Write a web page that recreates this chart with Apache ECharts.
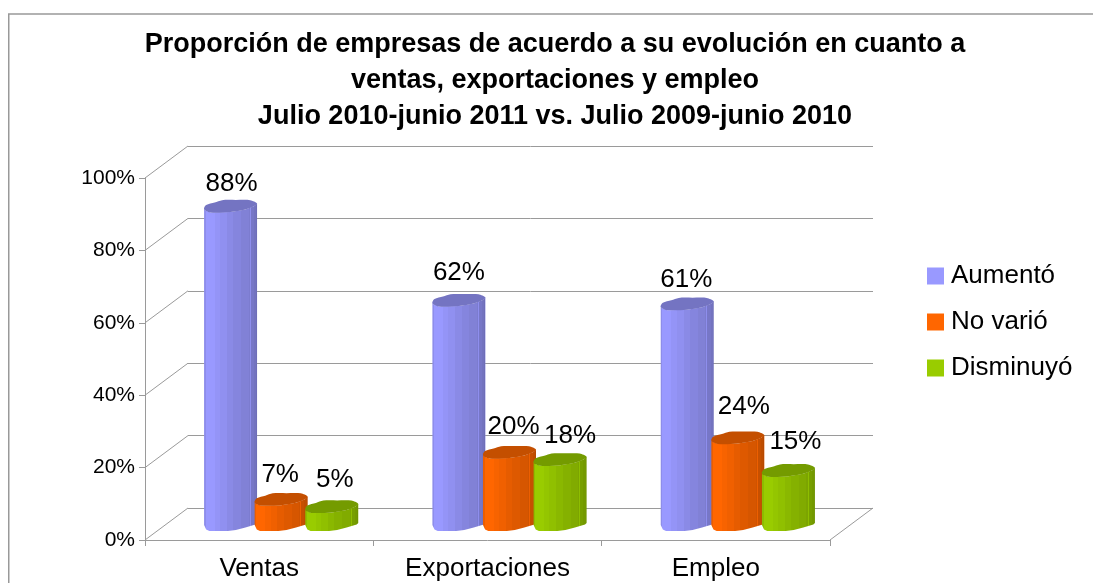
<!DOCTYPE html>
<html><head><meta charset="utf-8">
<style>html,body{margin:0;padding:0;background:#fff}#c{width:1093px;height:583px}</style>
<script src="https://cdn.jsdelivr.net/npm/echarts@6/dist/echarts.min.js"></script>
</head><body><div id="c"></div>
<script>
const categories = ['Ventas', 'Exportaciones', 'Empleo'];
const aumento = [88, 62, 61];
const noVario = [7, 20, 24];
const disminuyo = [5, 18, 15];
const titleText = 'Proporción de empresas de acuerdo a su evolución en cuanto a\nventas, exportaciones y empleo\nJulio 2010-junio 2011 vs. Julio 2009-junio 2010';

const FONT = '"Liberation Sans", Arial, sans-serif';
const DEPTH_X = 43, DEPTH_Y = -32;
const GRAY = '#9a9a9a';
const BAR_W = 53, BAR_STEP = 50.6;
const LABEL_NUDGE = [
  [[1, -22], [-1, -24], [3, -26]],
  [[0, -27], [4, -25], [10, -23]],
  [[-1, -23], [6, -30], [7, -28]]
];
const CAP = [[0,2.5],[.04,-.5],[.2,-3],[.34,-5.3],[.6,-5.5],[.87,-5.3],[1,-2],[.95,.5],[.78,4],[.5,6.5],[.12,7],[.01,4.5]];
const FRONT_TOP = [[0,2],[.01,4.5],[.12,7],[.5,6.5],[.78,4],[.95,.5],[1,-2]];
const FRONT_BOT = [[1,-1],[.97,.5],[.78,3.5],[.6,6],[.45,7],[.1,7],[.04,5.5],[0,1]];
const FACETS = [[0,.92],[.03,1],[.2,.97],[.3,.94],[.43,.9],[.55,.87],[.7,.84],[.84,.81],[.86,.93],[.88,.78],[.94,.75],[.98,.72],[1,.88]];

function shade(rgb, f) {
  return 'rgb(' + rgb.map(c => Math.round(c * f)).join(',') + ')';
}
function barGradient(rgb) {
  const stops = [];
  FACETS.forEach((s, i) => {
    if (i > 0) stops.push({ offset: s[0], color: shade(rgb, FACETS[i - 1][1]) });
    stops.push({ offset: s[0], color: shade(rgb, s[1]) });
  });
  return new echarts.graphic.LinearGradient(0, 0, 1, 0, stops);
}
function cylinder(seriesIdx, rgb, capFactor) {
  return function (params, api) {
    const cat = api.value(0), val = api.value(1);
    const center = api.coord([cat, 0])[0] + (seriesIdx - 1) * BAR_STEP;
    const x0 = center - BAR_W / 2;
    const top = api.coord([cat, val])[1];
    const base = api.coord([cat, 0])[1];
    const pts = (list, y) => list.map(p => [x0 + p[0] * BAR_W, y + p[1]]);
    const nudge = LABEL_NUDGE[cat][seriesIdx];
    return {
      type: 'group',
      children: [
        { type: 'polygon', shape: { points: pts(FRONT_TOP, top).concat(pts(FRONT_BOT, base)) },
          style: { fill: barGradient(rgb) } },
        { type: 'polygon', shape: { points: pts(CAP, top), smooth: 0.3 },
          style: { fill: shade(rgb, capFactor) } },
        { type: 'text', z2: 100, style: { x: center + nudge[0], y: top + nudge[1],
            text: api.value(1) + '%', align: 'center', verticalAlign: 'middle',
            font: '26px ' + FONT, fill: '#000' } }
      ]
    };
  };
}
function barSeries(name, values, idx, rgb, capFactor) {
  return {
    name, type: 'custom', xAxisIndex: 2, yAxisIndex: 2, z: 5 + idx,
    itemStyle: { color: shade(rgb, 1) },
    renderItem: cylinder(idx, rgb, capFactor),
    encode: { x: 0, y: 1 },
    clip: false,
    data: values.map((v, i) => [i, v])
  };
}
const ticks = [0, 20, 40, 60, 80, 100];
const chart = echarts.init(document.getElementById('c'), null, { renderer: 'canvas' });
const yBase = { type: 'value', min: 0, max: 100, interval: 20 };
chart.setOption({
  animation: false,
  backgroundColor: '#fff',
  title: {
    text: titleText, left: 555, top: 27, padding: 0, textAlign: 'center',
    textStyle: { fontFamily: FONT, fontSize: 27, fontWeight: 'bold', color: '#000', lineHeight: 36 }
  },
  legend: {
    orient: 'vertical', left: 927, top: 263, padding: 0, itemWidth: 17, itemHeight: 17, itemGap: 20,
    icon: 'rect', selectedMode: false,
    textStyle: { fontFamily: FONT, fontSize: 26, color: '#000', padding: [0, 0, 0, 2] },
    data: ['Aumentó', 'No varió', 'Disminuyó']
  },
  graphic: [{ type: 'polyline', silent: true, z: 0,
    shape: { points: [[8.75, 583], [8.75, 14], [1093, 14]] },
    style: { stroke: '#999', lineWidth: 1.5, fill: null } }],
  grid: [
    { left: 145, top: 178, width: 685, height: 362 },
    { left: 188, top: 146, width: 685, height: 362 },
    { left: 167, top: 162, width: 685, height: 362 }
  ],
  xAxis: [
    { type: 'category', gridIndex: 0, data: categories,
      axisLine: { show: true, lineStyle: { color: GRAY } },
      axisTick: { show: true, alignWithLabel: false, length: 6, lineStyle: { color: GRAY } },
      axisLabel: { fontFamily: FONT, fontSize: 26, color: '#000', margin: 16 } },
    { type: 'category', gridIndex: 1, data: categories, show: false },
    { type: 'category', gridIndex: 2, data: categories, show: false }
  ],
  yAxis: [
    Object.assign({}, yBase, { gridIndex: 0,
      axisLine: { show: true, lineStyle: { color: GRAY } },
      axisTick: { show: true, length: 6, lineStyle: { color: GRAY } },
      splitLine: { show: false },
      axisLabel: { fontFamily: FONT, fontSize: 21, color: '#000', margin: 10, padding: [0, 0, 4, 0], formatter: '{value}%' } }),
    Object.assign({}, yBase, { gridIndex: 1,
      axisLine: { show: false }, axisTick: { show: false }, axisLabel: { show: false },
      splitLine: { show: true, lineStyle: { color: GRAY, width: 1 } } }),
    Object.assign({}, yBase, { gridIndex: 2, show: false, splitLine: { show: false } })
  ],
  series: [
    { type: 'custom', xAxisIndex: 0, yAxisIndex: 0, z: 1, silent: true, clip: false,
      encode: { x: 0, y: 1 },
      data: ticks.map(t => [0, t]),
      renderItem: function (params, api) {
        const p = api.coord([0, api.value(1)]);
        const x = p[0] - api.size([1, 0])[0] / 2;
        return { type: 'line', shape: { x1: x, y1: p[1], x2: x + DEPTH_X, y2: p[1] + DEPTH_Y },
          style: { stroke: GRAY, lineWidth: 1 } };
      } },
    { type: 'custom', xAxisIndex: 0, yAxisIndex: 0, z: 1, silent: true, clip: false,
      encode: { x: 0, y: 1 },
      data: [[categories.length - 1, 0]],
      renderItem: function (params, api) {
        const p = api.coord([api.value(0), 0]);
        const x = p[0] + api.size([1, 0])[0] / 2;
        return { type: 'line', shape: { x1: x, y1: p[1], x2: x + DEPTH_X, y2: p[1] + DEPTH_Y },
          style: { stroke: GRAY, lineWidth: 1 } };
      } },
    barSeries('Aumentó', aumento, 0, [153, 153, 255], 0.76),
    barSeries('No varió', noVario, 1, [255, 102, 0], 0.77),
    barSeries('Disminuyó', disminuyo, 2, [153, 204, 0], 0.76)
  ]
});
</script></body></html>
